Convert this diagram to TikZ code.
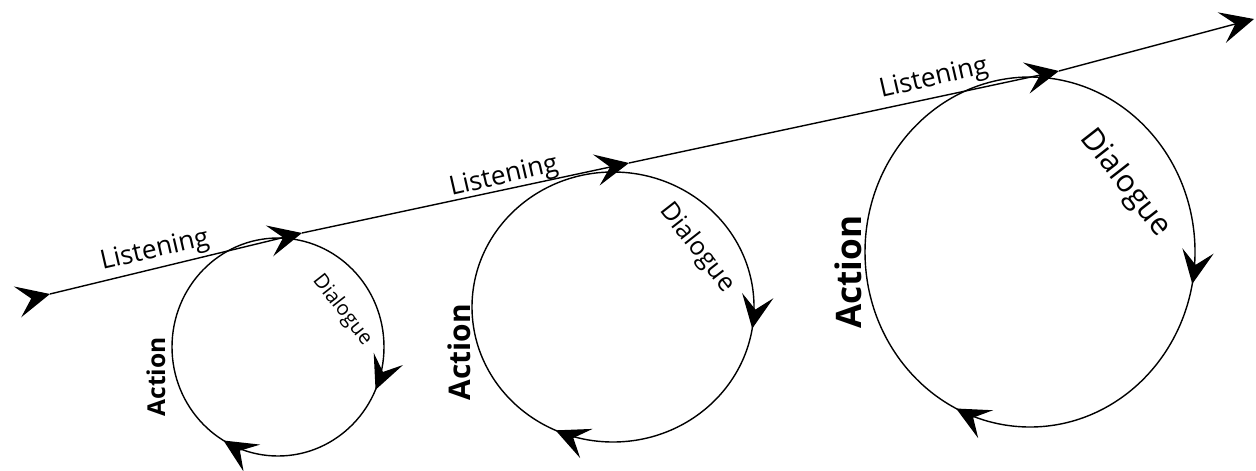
\documentclass[tikz,border=0pt]{standalone}
\usepackage{fontspec}
\setmainfont{Open Sans}
\usetikzlibrary{arrows.meta,decorations.markings,calc}
\tikzstyle{flow}=[draw,line width=0.8pt]
\tikzstyle{word}=[inner sep=0pt]
\tikzstyle{act}=[inner sep=0pt, rotate=90]
\tikzset{cycle marks/.style 2 args={postaction={decorate},
    decoration={markings,
      mark=at position #1 with {\arrow{>}},
      mark=at position #2 with {\arrow{>}}}}}
\newcommand{\fs}[1]{\fontsize{#1}{#1}\selectfont}

\begin{document}
\begin{tikzpicture}[x=0.02cm, y=-0.02cm,
    >={Stealth[length=19pt,width=18pt,inset=8pt]}]
  \useasboundingbox (0,0) rectangle (1256,470);

  % centres of the three loops
  \coordinate (c1) at (278,347);
  \coordinate (c2) at (613,307);
  \coordinate (c3) at (1030,252);

  % the long line
  \coordinate (s) at (50,294);
  \coordinate (a1) at (302,233);
  \coordinate (a2) at (629,163);
  \coordinate (a3) at (1059,71);
  \coordinate (e) at (1254,19);
  \draw [flow,->,postaction={decorate},
    decoration={markings,mark=at position 0 with {\arrow{>}}}] (s) -- (a1);
  \draw [flow,->] (a1) -- (a2);
  \draw [flow,->] (a2) -- (a3);
  \draw [flow,->] (a3) -- (e);

  % loops, drawn clockwise from the top
  \draw [flow,cycle marks={0.315}{0.585}] ($(c1)+(0,-109)$)
    arc [start angle=-90, end angle=270, x radius=106, y radius=109];
  \draw [flow,cycle marks={0.275}{0.568}] ($(c2)+(0,-135)$)
    arc [start angle=-90, end angle=270, x radius=141, y radius=135];
  \draw [flow,cycle marks={0.28}{0.572}] ($(c3)+(0,-175)$)
    arc [start angle=-90, end angle=270, x radius=165, y radius=175];

  % texts
  \node [word, rotate=13, font=\fs{15}] (l1) at (155,251) {Listening};
  \node [word, rotate=13, font=\fs{15}] (l2) at (504,177) {Listening};
  \node [word, rotate=13, font=\fs{15}] (l3) at (934,79) {Listening};

  \node [word, rotate=-52, font=\fs{11.5}] (d1) at (342,310) {Dialogue};
  \node [word, rotate=-52, font=\fs{14.5}] (d2) at (697,248) {Dialogue};
  \node [word, rotate=-52, font=\fs{17.5}] (d3) at (1125,183) {Dialogue};

  \node [act, font=\bfseries\fs{14}] (x1) at (156,377) {Action};
  \node [act, font=\bfseries\fs{17}] (x2) at (459,352) {Action};
  \node [act, font=\bfseries\fs{20}] (x3) at (848,272) {Action};
\end{tikzpicture}
\end{document}
